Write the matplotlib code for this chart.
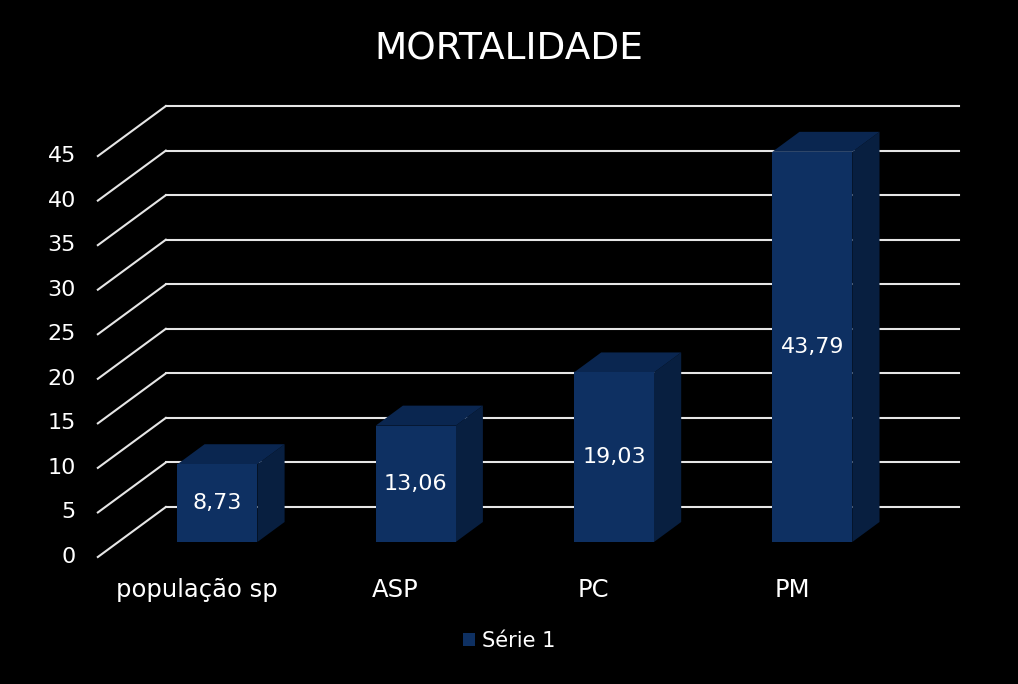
import matplotlib.pyplot as plt
from matplotlib.patches import Polygon, Rectangle

categories = ["população sp", "ASP", "PC", "PM"]
values = [8.73, 13.06, 19.03, 43.79]
value_labels = ["8,73", "13,06", "19,03", "43,79"]
yticks = [0, 5, 10, 15, 20, 25, 30, 35, 40, 45]
series_name = "Série 1"
title = "MORTALIDADE"

front_col = "#0e3062"
side_col = "#081f40"
top_col = "#0a2650"
grid_col = "#e6e6e6"
font = "DejaVu Sans"

W, H = 1018, 684
fig = plt.figure(figsize=(W / 100, H / 100), dpi=100, facecolor="black")
ax = fig.add_axes([0, 0, 1, 1])
ax.set_facecolor("black")
ax.axis("off")

# pixel layout of the front plane
px_cat, x0_px = 198.3, 197
px_val, y0_px = 8.91, 557
ax.set_xlim(-x0_px / px_cat, (W - x0_px) / px_cat)
ax.set_ylim((y0_px - H) / px_val, y0_px / px_val)

# depth (oblique) offset of the back wall
DX = 68 / px_cat
DY = 50 / px_val
xl, xr = -0.5, len(categories) - 0.5

for v in yticks:
    ax.plot([xl, xl + DX], [v, v + DY], color=grid_col, lw=1.5, zorder=1)
    ax.plot([xl + DX, xr + DX], [v + DY, v + DY], color=grid_col, lw=1.5, zorder=1)
    ax.text(xl - 22 / px_cat, v, str(v), color="white", fontsize=16,
            family=font, ha="right", va="center")

bw = 80 / px_cat
d0, dd = 0.3, 0.4
for i, v in enumerate(values):
    x1 = i - bw / 2 + d0 * DX
    x2 = x1 + bw
    y1 = d0 * DY
    y2 = v + d0 * DY
    ox, oy = dd * DX, dd * DY
    ax.add_patch(Polygon([(x2, y1), (x2 + ox, y1 + oy), (x2 + ox, y2 + oy), (x2, y2)],
                         closed=True, fc=side_col, ec="none", zorder=3))
    ax.add_patch(Polygon([(x1, y2), (x2, y2), (x2 + ox, y2 + oy), (x1 + ox, y2 + oy)],
                         closed=True, fc=top_col, ec="none", zorder=3))
    ax.add_patch(Rectangle((x1, y1), bw, v, fc=front_col, ec="none", zorder=4))
    ax.text((x1 + x2) / 2, (y1 + y2) / 2, value_labels[i], color="white",
            fontsize=16, family=font, ha="center", va="center", zorder=5)
    ax.text(i, (y0_px - 590) / px_val, categories[i], color="white",
            fontsize=17.5, family=font, ha="center", va="center")

fig.text(0.5, 1 - 50 / H, title, color="white", fontsize=27, family=font,
         ha="center", va="center")

handle = Rectangle((0, 0), 1, 1, fc=front_col, ec="none")
leg = fig.legend([handle], [series_name], loc="center", bbox_to_anchor=(0.5, 1 - 641 / H),
                 frameon=False, handlelength=0.6, handleheight=0.6, handletextpad=0.3,
                 prop={"family": font, "size": 15})
for t in leg.get_texts():
    t.set_color("white")

fig.savefig("out.png", dpi=100, facecolor="black")
